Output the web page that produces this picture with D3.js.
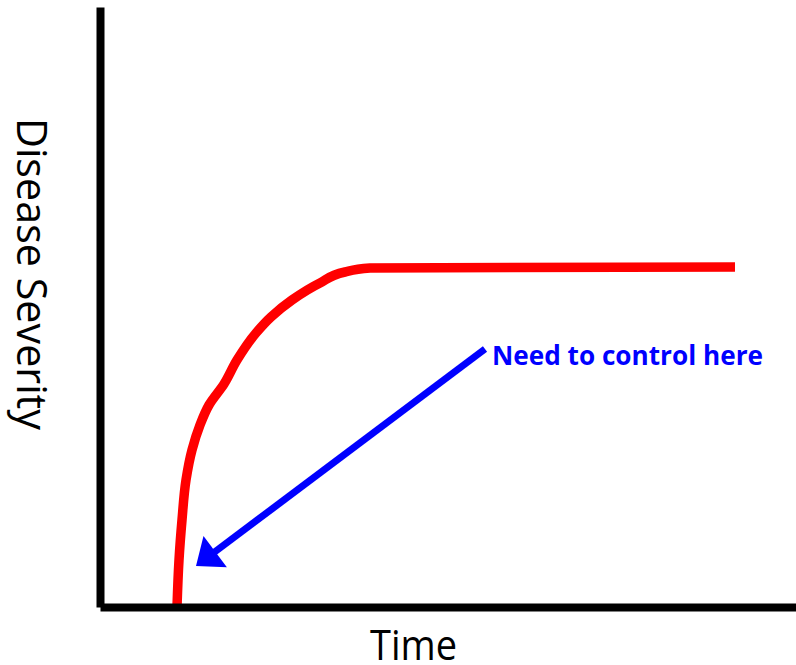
<!DOCTYPE html>
<html>
<head>
<meta charset="utf-8">
<script src="https://cdn.jsdelivr.net/npm/d3@7"></script>
<style>
  html, body { margin: 0; padding: 0; background: #fff; }
  svg { display: block; }
</style>
</head>
<body>
<div id="chart"></div>
<script>
// ---- data (units: time / severity in arbitrary chart units) ----
const curveTime     = [77, 79, 82, 86, 92, 100, 109, 124, 137, 156, 171, 192, 220, 245, 270, 635];
const curveSeverity = [0, 47, 87, 127, 157, 182, 202, 223, 247, 274, 290, 307, 324, 335, 339, 340];
const arrowTime     = [385, 96];   // [start, tip]
const arrowSeverity = [258, 41];
const annotationText = ["Need to control here"];
const annotationPos  = [392, 242]; // time, severity at text baseline start
const axisLabels = ["Time", "Disease Severity"];

const W = 796, H = 665;
const svg = d3.select("#chart").append("svg").attr("width", W).attr("height", H);

const x = d3.scaleLinear().domain([0, 700]).range([100, 800]);
const y = d3.scaleLinear().domain([0, 600]).range([607, 7]);

const font = "'Open Sans', 'Liberation Sans', sans-serif";

// red curve
const pts = curveTime.map((t, i) => [t, curveSeverity[i]]);
const line = d3.line().x(d => x(d[0])).y(d => y(d[1])).curve(d3.curveMonotoneY);
svg.append("path")
  .attr("d", line(pts))
  .attr("fill", "none")
  .attr("stroke", "#ff0000")
  .attr("stroke-width", 9.5)
  .attr("stroke-linejoin", "round");

// axes (no ticks)
const gx = svg.append("g").attr("transform", `translate(0,${y(0)})`)
  .call(d3.axisBottom(x).ticks(0).tickSize(0).tickSizeOuter(0));
const gy = svg.append("g").attr("transform", `translate(${x(0)},0)`)
  .call(d3.axisLeft(y).ticks(0).tickSize(0).tickSizeOuter(0));
[gx, gy].forEach(g => {
  g.select(".domain").attr("stroke", "#000").attr("stroke-width", 8);
  g.selectAll("text").remove();
});

// blue arrow
const sx = x(arrowTime[0]), sy = y(arrowSeverity[0]);
const tx = x(arrowTime[1]), ty = y(arrowSeverity[1]);
const dx = tx - sx, dy = ty - sy, len = Math.hypot(dx, dy);
const ux = dx / len, uy = dy / len;
const headLen = 24, headHalf = 19.5;
const bx = tx - ux * headLen, by = ty - uy * headLen;
svg.append("line")
  .attr("x1", sx).attr("y1", sy).attr("x2", bx + ux * 2).attr("y2", by + uy * 2)
  .attr("stroke", "#0000ff").attr("stroke-width", 7);
svg.append("path")
  .attr("d", `M${tx},${ty}L${bx - uy * headHalf},${by + ux * headHalf}L${bx + uy * headHalf},${by - ux * headHalf}Z`)
  .attr("fill", "#0000ff");

// annotation
svg.append("text")
  .attr("x", x(annotationPos[0])).attr("y", y(annotationPos[1]))
  .attr("font-family", font).attr("font-weight", "bold").attr("font-size", 26.5)
  .attr("fill", "#0000ff")
  .attr("textLength", 271).attr("lengthAdjust", "spacingAndGlyphs")
  .text(annotationText[0]);

// axis labels
svg.append("text")
  .attr("x", 413.5).attr("y", 660)
  .attr("text-anchor", "middle")
  .attr("font-family", font).attr("font-size", 42)
  .attr("textLength", 87).attr("lengthAdjust", "spacingAndGlyphs")
  .attr("fill", "#000")
  .text(axisLabels[0]);

svg.append("text")
  .attr("transform", "translate(17,274) rotate(90)")
  .attr("text-anchor", "middle")
  .attr("font-family", font).attr("font-size", 42)
  .attr("textLength", 312).attr("lengthAdjust", "spacingAndGlyphs")
  .attr("fill", "#000")
  .text(axisLabels[1]);
</script>
</body>
</html>
